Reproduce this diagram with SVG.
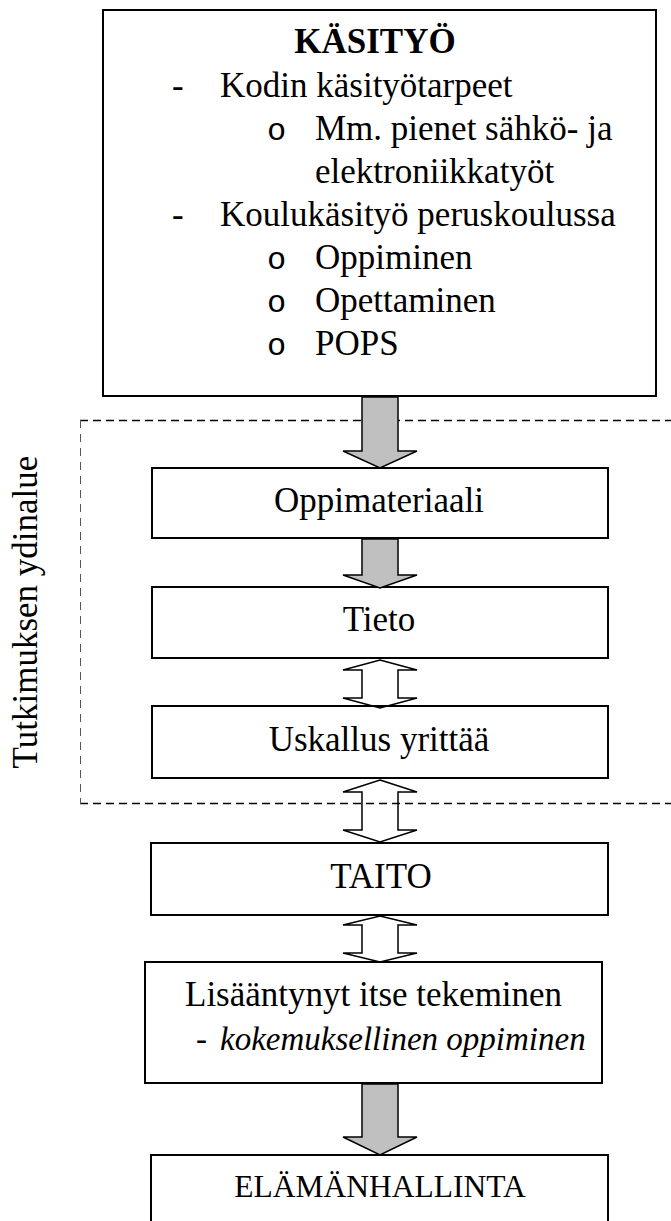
<svg xmlns="http://www.w3.org/2000/svg" width="671" height="1221" viewBox="0 0 671 1221">
<style>
.box{fill:#fff;stroke:#000;stroke-width:2}
.t{font-family:"Liberation Serif","Times New Roman",serif;font-size:35px;fill:#000}
.c{text-anchor:middle}
.b{font-weight:bold}
.i{font-style:italic;font-size:33px}
.bul{font-family:"Liberation Mono",monospace;font-size:32px;fill:#000}
.ga{fill:#c0c0c0;stroke:#000;stroke-width:1.5;stroke-linejoin:miter}
.da{fill:none;stroke:#000;stroke-width:1.5;stroke-linejoin:miter}
.dh{fill:none;stroke:#000;stroke-width:1.6;stroke-dasharray:8 5}
.dv{fill:none;stroke:#555;stroke-width:1;stroke-dasharray:8 6}
</style>
<rect x="0" y="0" width="671" height="1221" fill="#fff"/>
<g id="region">
<line class="dh" x1="80" y1="420.5" x2="671" y2="420.5"/>
<line class="dh" x1="80" y1="803.5" x2="671" y2="803.5"/>
<line class="dv" x1="80.5" y1="420" x2="80.5" y2="804"/>
<text class="t c" transform="translate(37,612) rotate(-90)">Tutkimuksen ydinalue</text>
</g>
<g id="kasityo">
<rect class="box" x="103" y="10" width="553" height="386"/>
<text class="t c b" x="375" y="53">KÄSITYÖ</text>
<text class="t" x="172" y="97">-</text>
<text class="t" x="220" y="97">Kodin käsityötarpeet</text>
<text class="bul" x="267" y="140">o</text>
<text class="t" x="315" y="140">Mm. pienet sähkö- ja</text>
<text class="t" x="315" y="183">elektroniikkatyöt</text>
<text class="t" x="172" y="226">-</text>
<text class="t" x="220" y="226">Koulukäsityö peruskoulussa</text>
<text class="bul" x="267" y="269">o</text>
<text class="t" x="315" y="269">Oppiminen</text>
<text class="bul" x="267" y="312">o</text>
<text class="t" x="315" y="312">Opettaminen</text>
<text class="bul" x="267" y="355">o</text>
<text class="t" x="315" y="355">POPS</text>
</g>
<g id="oppimateriaali">
<rect class="box" x="152" y="468" width="456" height="70"/>
<text class="t c" x="379" y="512">Oppimateriaali</text>
</g>
<g id="tieto">
<rect class="box" x="152" y="587" width="456" height="71"/>
<text class="t c" x="379" y="631">Tieto</text>
</g>
<g id="uskallus">
<rect class="box" x="152" y="706" width="456" height="72"/>
<text class="t c" x="379" y="751">Uskallus yrittää</text>
</g>
<g id="taito">
<rect class="box" x="151" y="843" width="457" height="72"/>
<text class="t c" x="381" y="888">TAITO</text>
</g>
<g id="lisaantynyt">
<rect class="box" x="145" y="962" width="457" height="121"/>
<text class="t" x="185" y="1006">Lisääntynyt itse tekeminen</text>
<text class="t" x="196" y="1050" style="font-size:33px">-</text>
<text class="t i" x="220" y="1050">kokemuksellinen oppiminen</text>
</g>
<g id="elamanhallinta">
<rect class="box" x="151" y="1155" width="457" height="100"/>
<text class="t c" x="380" y="1197" style="font-size:31.5px">ELÄMÄNHALLINTA</text>
</g>
<g id="connectors">
<polygon class="ga" points="362,397 398,397 398,451 417,451 380,468 343,451 362,451"/>
<polygon class="ga" points="362,539 398,539 398,575 417,575 380,588 343,575 362,575"/>
<polygon class="da" points="380,660 417,670 398,670 398,698 417,698 380,708 343,698 362,698 362,670 343,670"/>
<polygon class="da" points="380,780 417,792 398,792 398,830 417,830 380,842 343,830 362,830 362,792 343,792"/>
<polygon class="da" points="380,916 417,925 398,925 398,953 417,953 380,962 343,953 362,953 362,925 343,925"/>
<polygon class="ga" points="362,1084 398,1084 398,1137 417,1137 380,1155 343,1137 362,1137"/>
</g>
</svg>
